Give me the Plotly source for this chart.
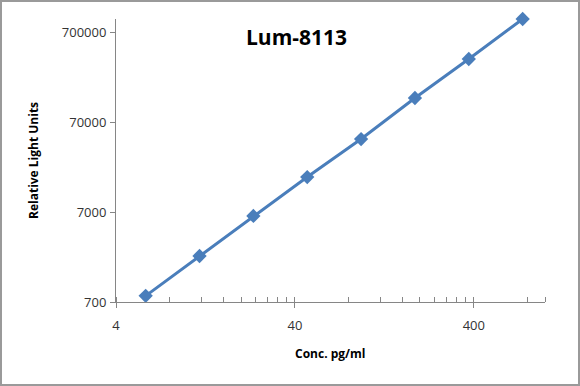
import plotly.graph_objects as go
import math

conc = [5.86, 11.72, 23.44, 46.88, 93.75, 187.5, 375, 750]
rlu = [820, 2280, 6370, 17300, 45900, 131600, 358000, 1000000]

x_ticks = [4, 40, 400]
x_tick_text = ["4", "40", "400"]
x_minor = [4 * k * 10 ** d for d in range(3) for k in range(1, 10) if 4 * k * 10 ** d <= 1000] + [1000]
y_ticks = [700, 7000, 70000, 700000]
y_tick_text = ["700", "7000", "70000", "700000"]

title_text = "Lum-8113"
x_title = "Conc. pg/ml"
y_title = "Relative Light Units"

W, H = 580, 386
L, R, T, B = 116, 35, 19, 84
pw, ph = W - L - R, H - T - B

def px_x(p):
    return (p - L) / pw

def px_y(p):
    return (H - B - p) / ph

axis_col = "#868686"
font_fam = "Open Sans, DejaVu Sans, sans-serif"

fig = go.Figure()
fig.add_trace(go.Scatter(
    x=conc, y=rlu, mode="lines+markers",
    line=dict(color="#4A7EBB", width=3),
    marker=dict(symbol="diamond", size=11, color="#4A7EBB"),
    cliponaxis=False, showlegend=False,
))

fig.update_layout(
    width=W, height=H,
    margin=dict(l=L, r=R, t=T, b=B),
    paper_bgcolor="white", plot_bgcolor="white",
    font=dict(family=font_fam, color="#333333", size=13),
    xaxis=dict(
        type="log", range=[math.log10(4), 3.0],
        tickvals=x_ticks, ticktext=x_tick_text,
        ticks="outside", ticklen=5, tickcolor=axis_col,
        ticklabelstandoff=6,
        showline=True, linecolor=axis_col, linewidth=1,
        showgrid=False, zeroline=False,
        minor=dict(tickmode="array", tickvals=x_minor, ticks="inside", ticklen=5, tickcolor=axis_col, showgrid=False),
        tickfont=dict(size=13, color="#333333"),
    ),
    yaxis=dict(
        type="log", range=[math.log10(700), 6.0],
        tickvals=y_ticks, ticktext=y_tick_text,
        ticks="outside", ticklen=5, tickcolor=axis_col,
        ticklabelstandoff=1,
        showline=True, linecolor=axis_col, linewidth=1,
        showgrid=False, zeroline=False,
        tickfont=dict(size=13, color="#333333"),
    ),
    annotations=[
        dict(text="<b>" + title_text + "</b>", xref="paper", yref="paper",
             x=px_x(296), y=px_y(37), showarrow=False,
             font=dict(size=21, color="black", family=font_fam),
             xanchor="center", yanchor="middle"),
        dict(text="<b>" + x_title + "</b>", xref="paper", yref="paper",
             x=px_x(330), y=px_y(353), showarrow=False,
             font=dict(size=12, color="black", family=font_fam),
             xanchor="center", yanchor="middle"),
        dict(text="<b>" + y_title + "</b>", xref="paper", yref="paper",
             x=px_x(33), y=px_y(161), showarrow=False, textangle=-90,
             font=dict(size=12, color="black", family=font_fam),
             xanchor="center", yanchor="middle"),
    ],
    shapes=[
        dict(type="rect", xref="paper", yref="paper",
             x0=px_x(1), x1=px_x(W - 1), y0=px_y(H - 1), y1=px_y(1),
             line=dict(color="#9A9A9A", width=2), fillcolor="rgba(0,0,0,0)", layer="below"),
    ],
)

fig.write_html("out.html")
